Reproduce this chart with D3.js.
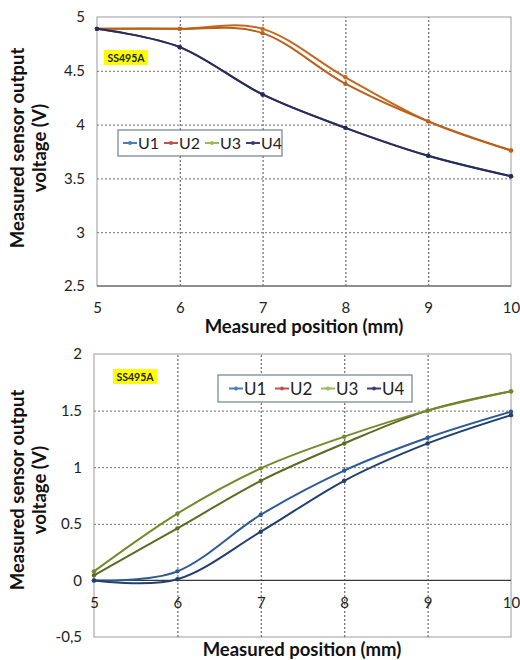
<!DOCTYPE html>
<html><head><meta charset="utf-8">
<script src="https://cdn.jsdelivr.net/npm/d3@7"></script>
<style>
html,body{margin:0;padding:0;background:#fff;}
svg{display:block;}
</style></head>
<body>
<svg id="c" width="520" height="660"></svg>
<script>
// ---- shared ----
const positions = [5, 6, 7, 8, 9, 10];
const seriesNames = ["U1", "U2", "U3", "U4"];
const legendColors = ["#4a7ebb", "#c0504d", "#9bbb59", "#3f3a78"];
const xTicks = [5, 6, 7, 8, 9, 10];
const sensorLabel = "SS495A";
const xTitle = "Measured position (mm)";
const yTitleLines = ["Measured sensor output", "voltage (V)"];

// ---- top chart ----
const topU1 = [4.89, 4.72, 4.28, 3.97, 3.71, 3.52];
const topU2 = [4.89, 4.89, 4.89, 4.44, 4.03, 3.76];
const topU3 = [4.89, 4.89, 4.85, 4.38, 4.03, 3.76];
const topU4 = [4.89, 4.72, 4.28, 3.97, 3.71, 3.52];
const topYTicks = [2.5, 3, 3.5, 4, 4.5, 5];
const topYTickLabels = ["2.5", "3", "3.5", "4", "4.5", "5"];
// line colours as they appear in the picture (drawing order U1,U2,U3,U4)
const topLineColors = ["#3b5f9a", "#c8671e", "#b8601c", "#2b2a58"];

// ---- bottom chart ----
const botU1 = [0.00, 0.08, 0.58, 0.97, 1.26, 1.49];
const botU2 = [0.045, 0.46, 0.88, 1.21, 1.50, 1.67];
const botU3 = [0.08, 0.59, 0.99, 1.27, 1.50, 1.67];
const botU4 = [0.00, 0.01, 0.43, 0.88, 1.21, 1.46];
const botYTicks = [-0.5, 0, 0.5, 1, 1.5, 2];
const botYTickLabels = ["-0,5", "0", "0.5", "1", "1.5", "2"];
const botLineColors = ["#2c5a92", "#5c6a24", "#74882c", "#22406c"];

const svg = d3.select("#c");
const FONT = "Lato, 'Open Sans', sans-serif";

function drawChart(cfg) {
  const g = svg.append("g");
  const x = d3.scaleLinear().domain([5, 10]).range([cfg.left, cfg.right]);
  const y = d3.scaleLinear().domain(cfg.yDomain).range([cfg.bottom, cfg.top]);

  // plot border
  g.append("rect").attr("x", cfg.left).attr("y", cfg.top)
    .attr("width", cfg.right - cfg.left).attr("height", cfg.bottom - cfg.top)
    .attr("fill", "none").attr("stroke", "#9a9a9a").attr("stroke-width", 1);

  // grid lines
  const gx = d3.axisBottom(x).tickValues(xTicks.slice(1, -1)).tickSize(-(cfg.bottom - cfg.top)).tickFormat("");
  g.append("g").attr("transform", `translate(0,${cfg.bottom})`).call(gx)
    .call(s => s.select(".domain").remove())
    .selectAll("line").attr("stroke", "#6a6a6a").attr("stroke-dasharray", "2,2").attr("stroke-width", 1.2);
  const gyTicks = cfg.yTicks.filter(v => v !== cfg.yDomain[0] && v !== cfg.yDomain[1] && v !== cfg.zeroLine);
  const gy = d3.axisLeft(y).tickValues(gyTicks).tickSize(-(cfg.right - cfg.left)).tickFormat("");
  g.append("g").attr("transform", `translate(${cfg.left},0)`).call(gy)
    .call(s => s.select(".domain").remove())
    .selectAll("line").attr("stroke", "#8a8a8a").attr("stroke-dasharray", "2,2").attr("stroke-width", 1.2);

  // x axis line
  const axisY = cfg.zeroLine !== undefined ? y(cfg.zeroLine) : cfg.bottom;
  g.append("line").attr("x1", cfg.left).attr("x2", cfg.right).attr("y1", axisY).attr("y2", axisY)
    .attr("stroke", cfg.zeroLine !== undefined ? "#3a3a3a" : "#7a7a7a").attr("stroke-width", 1.3);

  // y tick labels
  const ya = d3.axisLeft(y).tickValues(cfg.yTicks).tickSize(0).tickPadding(12)
    .tickFormat((d, i) => cfg.yTickLabels[i]);
  g.append("g").attr("transform", `translate(${cfg.left},0)`).call(ya)
    .call(s => s.select(".domain").remove())
    .selectAll("text").attr("font-family", FONT).attr("font-size", 15).attr("fill", "#222");

  // x tick labels
  const xa = d3.axisBottom(x).tickValues(xTicks).tickSize(0).tickPadding(cfg.xTickPad).tickFormat(d3.format("d"));
  g.append("g").attr("transform", `translate(0,${axisY})`).call(xa)
    .call(s => s.select(".domain").remove())
    .selectAll("text").attr("font-family", FONT).attr("font-size", 15).attr("fill", "#222");

  // x title
  g.append("text").attr("x", cfg.xTitleX).attr("y", cfg.xTitleY).attr("text-anchor", "middle")
    .attr("font-family", FONT).attr("font-weight", "bold").attr("font-size", 18.5).attr("fill", "#111")
    .text(xTitle);

  // y title
  const yt = g.append("text").attr("transform", `translate(${cfg.yTitleX},${cfg.yTitleY}) rotate(-90)`)
    .attr("text-anchor", "middle").attr("font-family", FONT).attr("font-weight", "bold")
    .attr("font-size", 18.5).attr("fill", "#111");
  yTitleLines.forEach((t, i) => yt.append("tspan").attr("x", 0).attr("dy", i === 0 ? 0 : 22).text(t));

  // series
  const line = d3.line().x((d, i) => x(positions[i])).y(d => y(d)).curve(d3.curveCardinal.tension(0));
  cfg.series.forEach((vals, si) => {
    g.append("path").attr("d", line(vals)).attr("fill", "none")
      .attr("stroke", cfg.lineColors[si]).attr("stroke-width", 2);
    g.selectAll(null).data(vals).enter().append("circle")
      .attr("cx", (d, i) => x(positions[i])).attr("cy", d => y(d)).attr("r", 2.2)
      .attr("fill", cfg.lineColors[si]);
  });

  // sensor label
  const lb = g.append("g").attr("transform", `translate(${cfg.labelX},${cfg.labelY})`);
  lb.append("rect").attr("x", 0).attr("y", 0).attr("width", 44).attr("height", 15).attr("fill", "#ffff00");
  lb.append("text").attr("x", 22).attr("y", 11.5).attr("text-anchor", "middle")
    .attr("font-family", FONT).attr("font-weight", "bold").attr("font-size", 10.5).attr("fill", "#222")
    .text(sensorLabel);

  // legend
  const lg = g.append("g").attr("transform", `translate(${cfg.legX},${cfg.legY})`);
  lg.append("rect").attr("x", 0).attr("y", 0).attr("width", cfg.legW).attr("height", cfg.legH)
    .attr("fill", "#fff").attr("stroke", "#6f8090").attr("stroke-width", 1.2);
  const my = cfg.legH / 2;
  seriesNames.forEach((n, i) => {
    const ex = cfg.legPad + i * cfg.legStep;
    lg.append("line").attr("x1", ex).attr("x2", ex + 14).attr("y1", my).attr("y2", my)
      .attr("stroke", legendColors[i]).attr("stroke-width", 2);
    lg.append("circle").attr("cx", ex + 7).attr("cy", my).attr("r", 2).attr("fill", legendColors[i]);
    lg.append("text").attr("x", ex + 15).attr("y", my + cfg.legFont * 0.36).attr("font-family", FONT)
      .attr("font-size", cfg.legFont).attr("fill", "#222").text(n);
  });
}

drawChart({
  left: 97, right: 511, top: 17, bottom: 286,
  yDomain: [2.5, 5], yTicks: topYTicks, yTickLabels: topYTickLabels,
  series: [topU1, topU2, topU3, topU4], lineColors: topLineColors,
  xTickPad: 16, xTitleX: 304, xTitleY: 333,
  yTitleX: 24, yTitleY: 148,
  labelX: 104, labelY: 50,
  legX: 118, legY: 130, legW: 164, legH: 26, legPad: 5, legStep: 41, legFont: 16
});

drawChart({
  left: 94, right: 511, top: 354, bottom: 637, zeroLine: 0,
  yDomain: [-0.5, 2], yTicks: botYTicks, yTickLabels: botYTickLabels,
  series: [botU1, botU2, botU3, botU4], lineColors: botLineColors,
  xTickPad: 17, xTitleX: 302, xTitleY: 656,
  yTitleX: 24, yTitleY: 490,
  labelX: 113, labelY: 369,
  legX: 218, legY: 375, legW: 194, legH: 27, legPad: 11, legStep: 46, legFont: 17
});
</script>
</body></html>
